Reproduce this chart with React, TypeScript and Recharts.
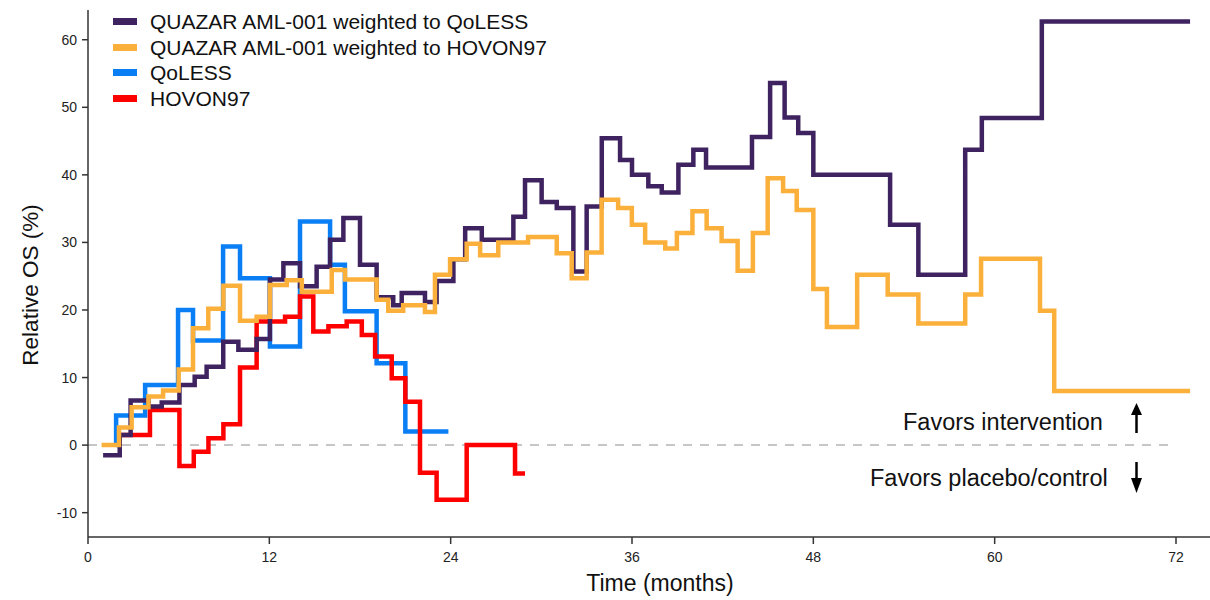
import { LineChart, Line, XAxis, YAxis, ReferenceLine } from 'recharts';

// Relative overall survival (%) over time (months), stepwise series
const QOLESS_WEIGHTED_MONTHS = [
  1.0, 2.1, 2.82, 4.0, 4.88, 6.05, 7.06, 7.85, 8.95, 9.95, 11.16, 12.04, 12.93, 14.03, 15.13, 16.02, 16.9, 18.0, 19.1,
  20.2, 20.76, 22.3, 23.07, 24.18, 24.96, 26.06, 28.15, 28.92, 30.02, 31.02, 32.12, 33.0, 34.0, 35.21, 36.0, 37.08,
  37.97, 39.07, 40.06, 40.9, 43.94, 45.14, 46.1, 47.0, 48.0, 53.08, 54.95, 58.05, 59.15, 63.12, 72.93,
];
const QOLESS_WEIGHTED_OS = [
  -1.5, 1.5, 6.6, 5.7, 6.3, 8.9, 10.1, 11.6, 15.3, 14.1, 15.7, 24.5, 26.9, 23.5, 26.4, 30.4, 33.6, 26.7, 21.9, 20.7,
  22.5, 21.2, 24.3, 27.5, 32.1, 30.4, 33.8, 39.2, 36.0, 35.1, 25.7, 35.3, 45.4, 42.2, 40.0, 38.3, 37.4, 41.5, 43.7,
  41.1, 45.6, 53.6, 48.5, 46.2, 40.0, 32.6, 25.2, 43.7, 48.4, 62.7, 62.7,
];

const HOVON_WEIGHTED_MONTHS = [
  0.9, 2.05, 2.89, 4.0, 4.97, 6.0, 6.95, 7.96, 8.96, 10.06, 11.16, 12.04, 13.15, 14.15, 16.13, 17.01, 19.1, 19.87,
  20.86, 22.3, 22.96, 23.96, 25.06, 25.95, 27.15, 29.12, 31.02, 32.01, 33.0, 33.99, 35.08, 35.99, 36.87, 38.2, 38.97,
  40.0, 40.94, 41.93, 42.99, 44.0, 44.98, 46.0, 46.9, 48.0, 48.9, 50.9, 52.92, 54.95, 58.05, 59.1, 63.0, 63.94, 72.93,
];
const HOVON_WEIGHTED_OS = [
  0, 2.6, 5.6, 7.2, 8.1, 11.2, 17.3, 20.2, 23.6, 18.4, 19.0, 23.7, 24.4, 22.7, 25.9, 24.5, 21.5, 19.9, 20.7, 19.7,
  25.2, 27.5, 29.8, 28.1, 30.0, 30.8, 28.4, 24.7, 28.5, 36.3, 35.1, 32.6, 30.0, 29.1, 31.4, 34.6, 32.1, 30.2, 25.8,
  31.4, 39.5, 37.6, 34.8, 23.1, 17.5, 25.2, 22.3, 18.0, 22.3, 27.6, 19.9, 8.0, 8.0,
];

const QOLESS_MONTHS = [1.85, 1.86, 3.78, 5.96, 6.95, 8.94, 10.06, 12.04, 14.03, 16.02, 17.0, 19.1, 21.0, 23.85];
const QOLESS_OS = [0, 4.4, 8.9, 20.0, 15.5, 29.4, 24.7, 14.6, 33.1, 26.7, 19.8, 12.1, 2.0, 2.0];

const HOVON_MONTHS = [
  2.0, 4.1, 6.05, 7.0, 7.97, 8.96, 10.06, 11.16, 13.04, 14.03, 14.91, 15.91, 17.12, 18.12, 19.0, 20.1, 21.0, 21.97,
  23.07, 25.06, 28.26, 28.92,
];
const HOVON_OS = [
  1.5, 5.2, -3.1, -1.0, 1.0, 3.1, 11.5, 18.3, 19.0, 22.0, 16.8, 17.6, 18.3, 16.3, 13.1, 9.9, 6.4, -4.1, -8.1, 0, -4.2,
  -4.2,
];

const MONTH_TICKS = [0, 12, 24, 36, 48, 60, 72];
const OS_TICKS = [-10, 0, 10, 20, 30, 40, 50, 60];

const zip = (months: number[], os: number[]) => months.map((t, i) => ({ t, os: os[i] }));

// legend order; drawing order is set separately below
const SERIES = [
  { id: 'qolessWeighted', name: 'QUAZAR AML-001 weighted to QoLESS', color: '#3f2361', data: zip(QOLESS_WEIGHTED_MONTHS, QOLESS_WEIGHTED_OS) },
  { id: 'hovonWeighted', name: 'QUAZAR AML-001 weighted to HOVON97', color: '#fbb03b', data: zip(HOVON_WEIGHTED_MONTHS, HOVON_WEIGHTED_OS) },
  { id: 'qoless', name: 'QoLESS', color: '#0a7ff5', data: zip(QOLESS_MONTHS, QOLESS_OS) },
  { id: 'hovon', name: 'HOVON97', color: '#ff0000', data: zip(HOVON_MONTHS, HOVON_OS) },
];
const DRAW_ORDER = ['qoless', 'hovon', 'qolessWeighted', 'hovonWeighted'];

const FONT = '"Liberation Sans", Arial, sans-serif';
const AXIS_COLOR = '#333';

const ChartLegend = () => (
  <div style={{ position: 'absolute', left: 113, top: 9, fontFamily: FONT, fontSize: 21, color: '#111' }}>
    {SERIES.map(s => (
      <div key={s.id} style={{ display: 'flex', alignItems: 'center', height: 25.5 }}>
        <div style={{ width: 24, height: 7, backgroundColor: s.color, marginRight: 13 }} />
        <span style={{ lineHeight: '25px', whiteSpace: 'nowrap' }}>{s.name}</span>
      </div>
    ))}
  </div>
);

export default function App() {
  return (
    <div style={{ position: 'absolute', left: 0, top: 0, width: 1210, height: 600, background: '#fff', fontFamily: FONT }}>
      <LineChart width={1210} height={600} margin={{ top: 10, right: 0, bottom: 33, left: 0 }}>
        <XAxis
          type="number"
          dataKey="t"
          domain={[0, 74.25]}
          ticks={MONTH_TICKS}
          allowDataOverflow
          height={30}
          tickSize={7}
          tickMargin={8}
          axisLine={{ stroke: AXIS_COLOR, strokeWidth: 1.5 }}
          tickLine={{ stroke: AXIS_COLOR, strokeWidth: 1.5 }}
          tick={{ fill: '#222', fontSize: 14, fontFamily: FONT }}
        />
        <YAxis
          type="number"
          domain={[-13.6, 64.4]}
          ticks={OS_TICKS}
          allowDataOverflow
          width={88}
          tickSize={6}
          tickMargin={5}
          axisLine={{ stroke: AXIS_COLOR, strokeWidth: 1.5 }}
          tickLine={{ stroke: AXIS_COLOR, strokeWidth: 1.5 }}
          tick={{ fill: '#222', fontSize: 14, fontFamily: FONT }}
        />
        <ReferenceLine
          segment={[
            { x: 0, y: 0 },
            { x: 71.67, y: 0 },
          ]}
          stroke="#c6c6c6"
          strokeWidth={2}
          strokeDasharray="9 8"
        />
        {DRAW_ORDER.map(id => {
          const s = SERIES.find(x => x.id === id)!;
          return (
            <Line
              key={s.id}
              data={s.data}
              dataKey="os"
              name={s.name}
              type="stepAfter"
              stroke={s.color}
              strokeWidth={4.5}
              dot={false}
              activeDot={false}
              isAnimationActive={false}
            />
          );
        })}
      </LineChart>

      <ChartLegend />

      {/* axis titles and direction notes */}
      <svg width={1210} height={600} style={{ position: 'absolute', left: 0, top: 0, pointerEvents: 'none' }}>
        <text x={30} y={285} transform="rotate(-90 30 285)" textAnchor="middle" dominantBaseline="central" fontSize={22.5} fill="#111" fontFamily={FONT}>
          Relative OS (%)
        </text>
        <text x={660} y={591} textAnchor="middle" fontSize={23} fill="#111" fontFamily={FONT}>
          Time (months)
        </text>
        <text x={903} y={430} fontSize={23.5} fill="#111" fontFamily={FONT}>
          Favors intervention
        </text>
        <text x={870} y={486} fontSize={23.5} fill="#111" fontFamily={FONT}>
          Favors placebo/control
        </text>
        <line x1={1136.5} y1={433} x2={1136.5} y2={412} stroke="#000" strokeWidth={2.5} />
        <polygon points="1136.5,403 1131,415 1142,415" fill="#000" />
        <line x1={1136.5} y1={462} x2={1136.5} y2={482} stroke="#000" strokeWidth={2.5} />
        <polygon points="1136.5,493 1131,478 1142,478" fill="#000" />
      </svg>
    </div>
  );
}
